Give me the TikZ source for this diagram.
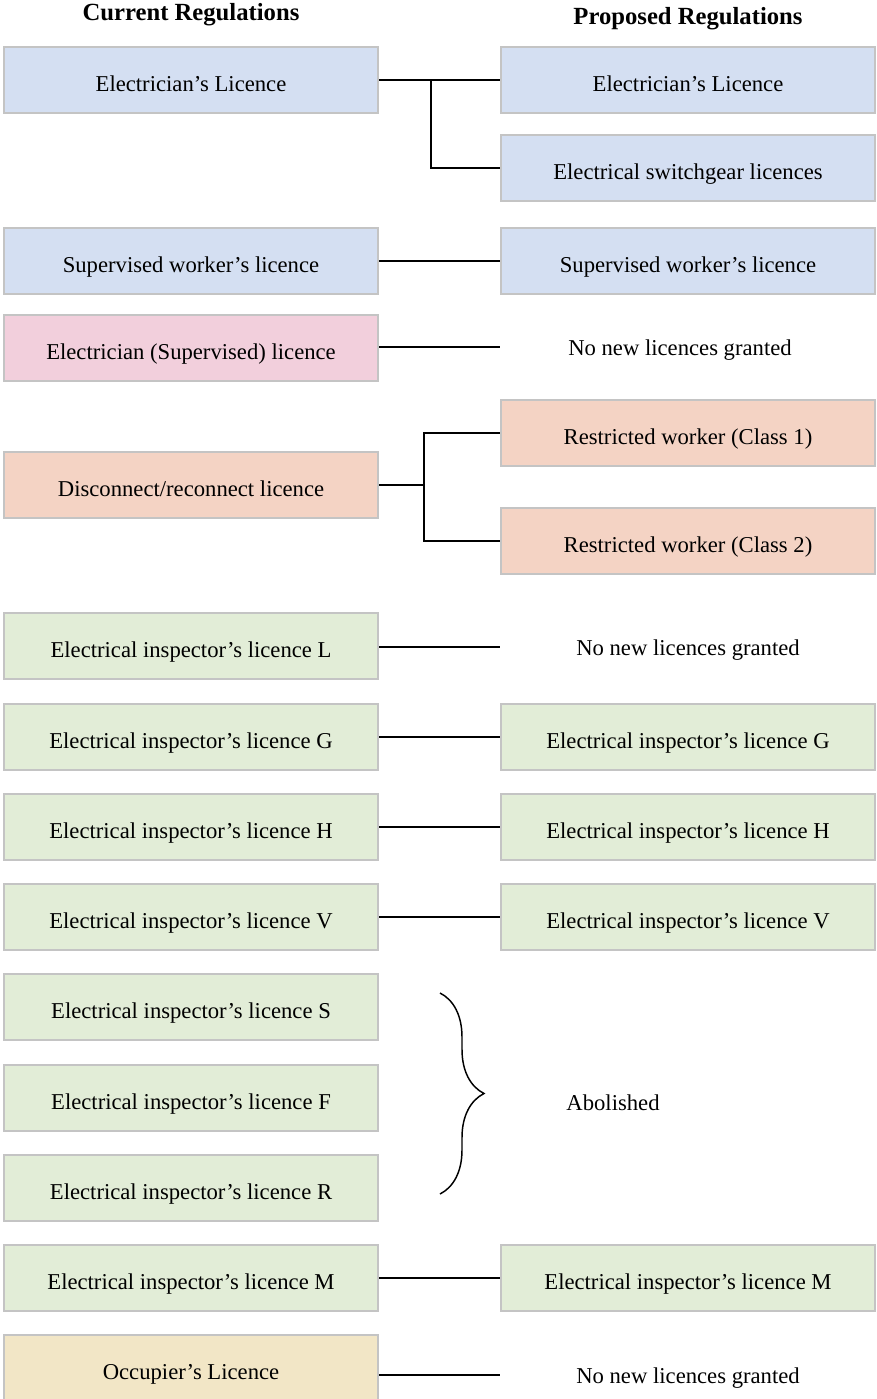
\documentclass[tikz,border=0pt]{standalone}
\usepackage{fontspec}
\setmainfont{Liberation Serif}
\usetikzlibrary{decorations.pathreplacing}

\definecolor{boxblue}{HTML}{D4DFF2}
\definecolor{boxpink}{HTML}{F2CFDC}
\definecolor{boxsalmon}{HTML}{F4D3C4}
\definecolor{boxgreen}{HTML}{E2EDD7}
\definecolor{boxtan}{HTML}{F2E6C6}
\definecolor{boxedge}{HTML}{C4C4C4}

\tikzset{
    licbox/.style={
        draw=boxedge,
        line width=1.3pt,
        minimum width=281pt,
        minimum height=49.5pt,
        inner sep=0pt,
        text height=16.5pt,
        text depth=0pt,
        font=\fontsize{17}{20}\selectfont
        },
    plaintext/.style={
        minimum width=281pt,
        inner sep=0pt,
        text height=12pt,
        text depth=0pt,
        font=\fontsize{17}{20}\selectfont
        },
    heading/.style={
        font=\fontsize{18.5}{22}\selectfont\bfseries
        },
    link/.style={
        line width=1.1pt,
        black
        }
}

\begin{document}
\begin{tikzpicture}[x=0.75pt,y=-0.75pt]

\useasboundingbox (0,0) rectangle (876,1399);

%headings
\node[heading] (curhead) at (191,15) {Current Regulations};
\node[heading] (prohead) at (688,19) {Proposed Regulations};

%electrician
\node[licbox, fill=boxblue] (celec) at (191,80) {Electrician’s Licence};
\node[licbox, fill=boxblue] (pelec) at (688,80) {Electrician’s Licence};
\node[licbox, fill=boxblue] (pswitch) at (688,168) {Electrical switchgear licences};
\coordinate (jelec) at (431,80);
\draw[link] (celec) -- (pelec);
\draw[link] (jelec) |- (pswitch.west);

%supervised worker
\node[licbox, fill=boxblue] (csup) at (191,261) {Supervised worker’s licence};
\node[licbox, fill=boxblue] (psup) at (688,261) {Supervised worker’s licence};
\draw[link] (csup) -- (psup);

%electrician supervised
\node[licbox, fill=boxpink] (celsup) at (191,348) {Electrician (Supervised) licence};
\node[plaintext] (pelsup) at (688,347) {\hspace*{-12pt}No new licences granted};
\draw[link] (celsup.east |- pelsup) -- (pelsup.west);

%disconnect
\node[licbox, fill=boxsalmon] (cdisc) at (191,485) {Disconnect/reconnect licence};
\node[licbox, fill=boxsalmon] (prestone) at (688,433) {Restricted worker (Class 1)};
\node[licbox, fill=boxsalmon] (presttwo) at (688,541) {Restricted worker (Class 2)};
\coordinate (jdisc) at (424,485);
\draw[link] (cdisc.east) -- (jdisc);
\draw[link] (prestone.west) -| (jdisc) |- (presttwo.west);

%inspectors
\foreach \n/\y in {L/646, G/737, H/827, V/917, S/1007, F/1098, R/1188, M/1278}
\node[licbox, fill=boxgreen] (cinsp\n) at (191,\y) {Electrical inspector’s licence \n};

\node[plaintext] (pinspL) at (688,647) {No new licences granted};
\draw[link] (cinspL.east |- pinspL) -- (pinspL.west);

\foreach \n/\y in {G/737, H/827, V/917, M/1278}
{
\node[licbox, fill=boxgreen] (pinsp\n) at (688,\y) {Electrical inspector’s licence \n};
\draw[link] (cinsp\n) -- (pinsp\n);
}

%abolished
\coordinate (bracetop) at (440,993);
\coordinate (bracebot) at (440,1194);
\draw[
        link,
        decorate,
        decoration={brace, amplitude=33pt}
        ]
        (bracetop) -- (bracebot);
\node[plaintext, minimum width=0pt] (pabol) at (613,1102) {Abolished};

%occupier
\node[licbox, fill=boxtan] (cocc) at (191,1368) {Occupier’s Licence};
\node[plaintext] (pocc) at (688,1375) {No new licences granted};
\draw[link] (cocc.east |- pocc) -- (pocc.west);

\end{tikzpicture}
\end{document}
